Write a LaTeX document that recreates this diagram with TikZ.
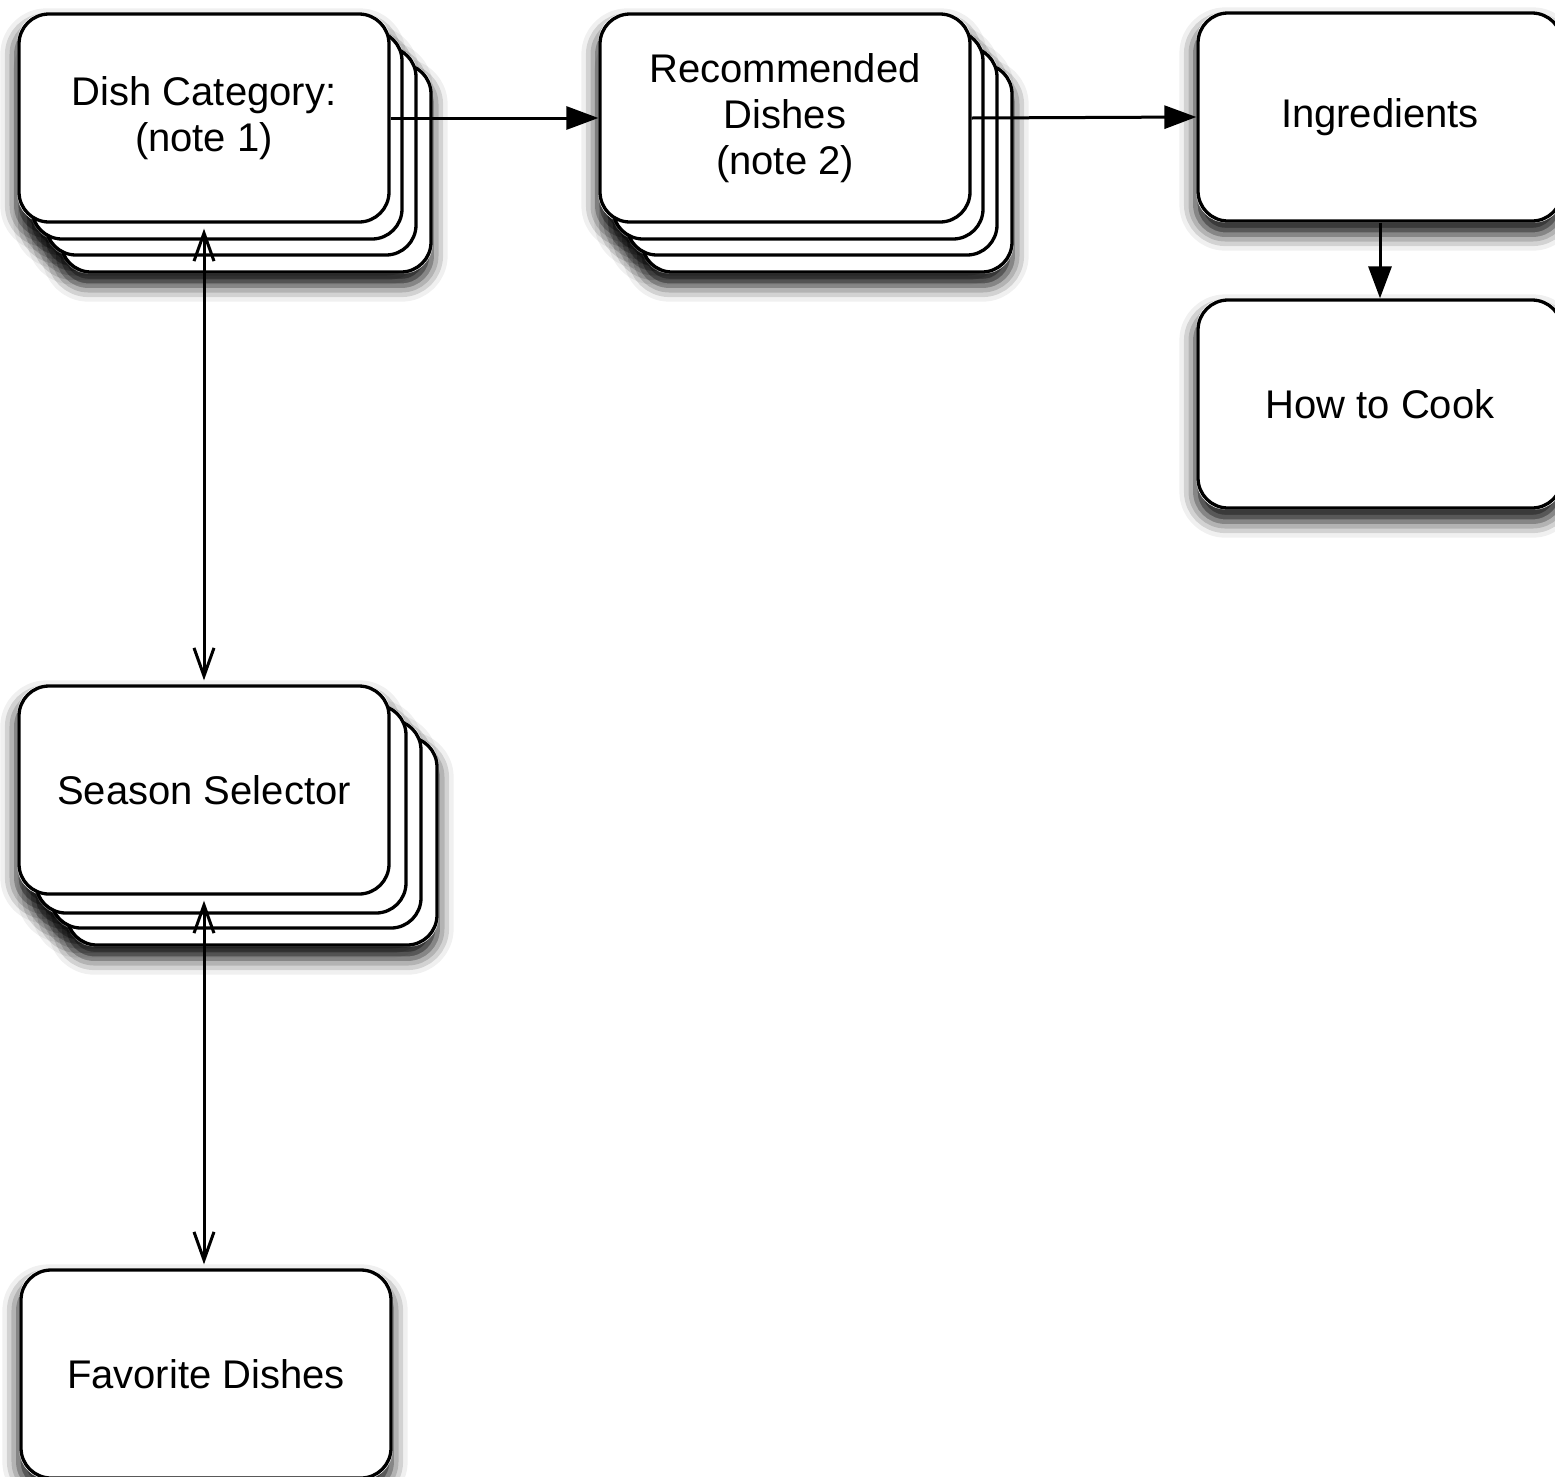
\documentclass[tikz,border=0pt]{standalone}
\usepackage{fontspec}
\setmainfont{Liberation Sans}
\usetikzlibrary{arrows.meta,shadows.blur,backgrounds}
\begin{document}
\begin{tikzpicture}[x=1pt,y=-1pt,
  card/.style={draw=black, line width=3.3pt, fill=white, rounded corners=30pt,
    minimum width=370pt, minimum height=208pt, inner sep=0pt, align=center,
    font=\fontsize{40}{46}\selectfont},
  shadebox/.style={fill=white, rounded corners=30pt,
    blur shadow={shadow xshift=-1pt, shadow yshift=-12pt, shadow blur radius=16pt, shadow opacity=95}},
  conn/.style={line width=3pt, draw=black},
  fwd/.style={conn, -{Triangle[length=32pt,width=23pt,fill=black]}},
  both/.style={conn, {Straight Barb[length=28pt,width=20pt]}-{Straight Barb[length=28pt,width=20pt]}}]
\useasboundingbox (0,0) rectangle (1555,1476);

% Dish Category stack
\node[card] (dc3) at (246,168) {};
\node[card] (dc2) at (231,151) {};
\node[card] (dc1) at (217,135) {};
\node[card] (dc) at (204,118) {Dish Category:\\(note 1)};

% Recommended Dishes stack
\node[card] (rd3) at (827,168) {};
\node[card] (rd2) at (812,151) {};
\node[card] (rd1) at (798,135) {};
\node[card] (rd) at (785,118) {Recommended\\Dishes\\(note 2)};

% Ingredients and How to Cook
\node[card, minimum width=364pt] (ing) at (1380,117) {Ingredients};
\node[card, minimum width=364pt] (htc) at (1380,404) {How to Cook};

% Season Selector stack
\node[card] (ss3) at (252,841) {};
\node[card] (ss2) at (236,824) {};
\node[card] (ss1) at (221,809) {};
\node[card] (ss) at (204,790) {Season Selector};

% Favorite Dishes
\node[card] (fd) at (206,1374) {Favorite Dishes};

% shadows
\begin{pgfonlayer}{background}
\foreach \n in {dc3,dc2,dc1,dc,rd3,rd2,rd1,rd,ing,htc,ss3,ss2,ss1,ss,fd}{
  \path[shadebox] (\n.north west) rectangle (\n.south east);
}
\end{pgfonlayer}

% connectors
\draw[fwd] (dc.east) -- (rd.west);
\draw[fwd] (rd.east) -- (ing.west);
\draw[fwd] (ing.south) -- (htc.north);
\draw[both, shorten <=5pt, shorten >=4pt] (dc.south) -- (ss.north);
\draw[both, shorten <=5pt, shorten >=4pt] (ss.south) -- (ss.south |- fd.north);
\end{tikzpicture}
\end{document}
